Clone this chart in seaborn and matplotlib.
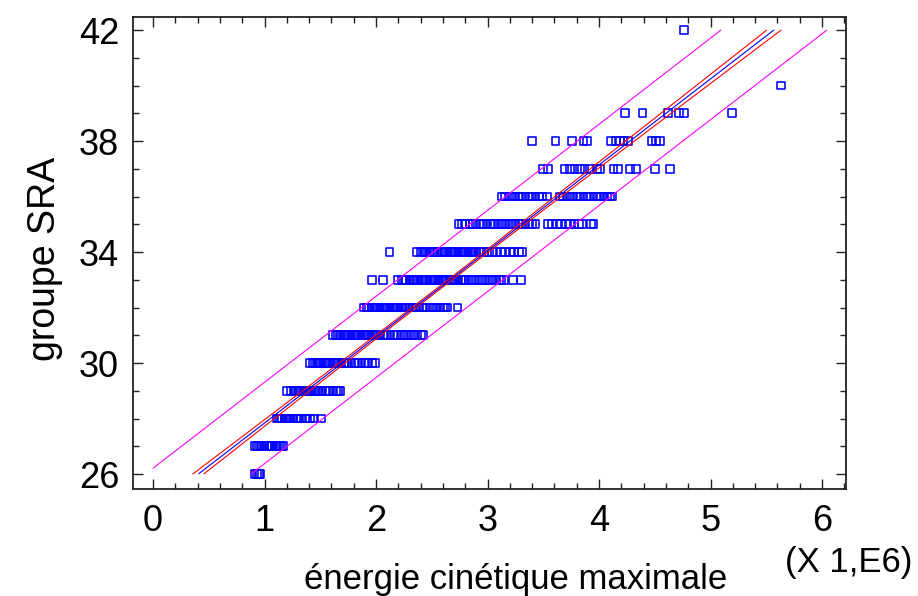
import numpy as np
import pandas as pd
import matplotlib
matplotlib.use('Agg')
import matplotlib.pyplot as plt
from matplotlib.ticker import MultipleLocator
import seaborn as sns

# ── Data: énergie cinétique maximale (X 1,E6) per groupe SRA row ─────
row_26 = [0.91, 0.93, 0.95, 0.96]
row_27 = [0.91, 0.93, 0.95, 0.97, 0.99, 1.00, 1.02, 1.04, 1.05, 1.07,
          1.09, 1.11, 1.13, 1.15, 1.17]
row_28 = [1.11, 1.13, 1.15, 1.16, 1.18, 1.20, 1.22, 1.24, 1.26, 1.28,
          1.30, 1.33, 1.36, 1.38, 1.41, 1.44, 1.51]
row_29 = [1.20, 1.24, 1.26, 1.28, 1.30, 1.32, 1.34, 1.36, 1.38, 1.40,
          1.42, 1.44, 1.46, 1.48, 1.50, 1.52, 1.55, 1.58, 1.61, 1.64,
          1.66, 1.68]
row_30 = [1.41, 1.43, 1.45, 1.47, 1.49, 1.51, 1.53, 1.55, 1.57, 1.59,
          1.61, 1.63, 1.65, 1.67, 1.69, 1.71, 1.73, 1.75, 1.78, 1.81,
          1.84, 1.87, 1.90, 1.93, 1.96, 1.99]
row_31 = [1.61, 1.64, 1.66, 1.68, 1.70, 1.72, 1.74, 1.76, 1.78, 1.80,
          1.82, 1.84, 1.86, 1.88, 1.90, 1.92, 1.94, 1.96, 1.98, 2.00,
          2.02, 2.04, 2.07, 2.10, 2.13, 2.16, 2.19, 2.22, 2.25, 2.28,
          2.31, 2.34, 2.37, 2.40, 2.42]
row_32 = [1.89, 1.92, 1.94, 1.96, 1.98, 2.00, 2.02, 2.04, 2.06, 2.08,
          2.10, 2.12, 2.14, 2.16, 2.18, 2.20, 2.22, 2.24, 2.26, 2.28,
          2.30, 2.33, 2.36, 2.39, 2.42, 2.45, 2.48, 2.51, 2.54, 2.57,
          2.60, 2.62, 2.64, 2.73]
row_33 = [1.96, 2.06, 2.20, 2.23, 2.25, 2.27, 2.30, 2.32, 2.34, 2.36,
          2.38, 2.40, 2.42, 2.44, 2.46, 2.48, 2.50, 2.52, 2.54, 2.56,
          2.58, 2.60, 2.62, 2.64, 2.66, 2.68, 2.70, 2.72, 2.74, 2.76,
          2.78, 2.80, 2.83, 2.86, 2.89, 2.92, 2.95, 2.98, 3.01, 3.04,
          3.07, 3.10, 3.12, 3.15, 3.23, 3.30]
row_34 = [2.12, 2.37, 2.40, 2.42, 2.44, 2.46, 2.48, 2.50, 2.52, 2.55,
          2.58, 2.60, 2.62, 2.64, 2.66, 2.68, 2.70, 2.72, 2.74, 2.76,
          2.78, 2.80, 2.82, 2.84, 2.86, 2.88, 2.90, 2.92, 2.94, 2.97,
          3.00, 3.04, 3.08, 3.12, 3.16, 3.20, 3.24, 3.28, 3.31]
row_35 = [2.74, 2.77, 2.80, 2.84, 2.87, 2.90, 2.93, 2.96, 2.99, 3.02,
          3.05, 3.07, 3.10, 3.13, 3.16, 3.19, 3.22, 3.25, 3.28, 3.31,
          3.34, 3.37, 3.40, 3.43, 3.54, 3.58, 3.62, 3.66, 3.70, 3.74,
          3.78, 3.82, 3.85, 3.93, 3.95]
row_36 = [3.13, 3.16, 3.19, 3.22, 3.25, 3.28, 3.31, 3.34, 3.37, 3.40,
          3.43, 3.46, 3.49, 3.53, 3.65, 3.68, 3.71, 3.74, 3.77, 3.80,
          3.83, 3.86, 3.89, 3.92, 3.95, 3.98, 4.01, 4.04, 4.07, 4.10,
          4.12]
row_37 = [3.50, 3.54, 3.69, 3.74, 3.78, 3.83, 3.87, 3.92, 3.98, 4.01,
          4.13, 4.17, 4.28, 4.33, 4.50, 4.64]
row_38 = [3.40, 3.61, 3.76, 3.86, 3.89, 4.11, 4.15, 4.19, 4.22, 4.26,
          4.47, 4.51, 4.55]
row_39 = [4.23, 4.39, 4.62, 4.72, 4.76, 5.19]
row_40 = [5.63]
row_42 = [4.76]

rows = {26: row_26, 27: row_27, 28: row_28, 29: row_29, 30: row_30,
        31: row_31, 32: row_32, 33: row_33, 34: row_34, 35: row_35,
        36: row_36, 37: row_37, 38: row_38, 39: row_39, 40: row_40,
        42: row_42}

# fitted model
fit_intercept = 24.74
fit_slope = 3.10
resid_sd = 0.745
n_obs = 640
x_mean = 2.60
x_sxx = 520.0
t_crit = 1.96

df = pd.DataFrame([(x, g) for g, xs in rows.items() for x in xs],
                  columns=['energie', 'groupe'])

# ── Regression lines with confidence / prediction limits ─────────────
xg = np.linspace(0, 6.2, 2000)
fit = fit_intercept + fit_slope * xg
se_mean = resid_sd * np.sqrt(1 / n_obs + (xg - x_mean) ** 2 / x_sxx)
se_pred = resid_sd * np.sqrt(1 + 1 / n_obs + (xg - x_mean) ** 2 / x_sxx)

def clip(y):
    return np.where((y >= 26) & (y <= 42), y, np.nan)

lines = pd.DataFrame({
    'x': xg,
    'fit': clip(fit),
    'ci_lo': clip(fit - t_crit * se_mean),
    'ci_hi': clip(fit + t_crit * se_mean),
    'pi_lo': clip(fit - t_crit * se_pred),
    'pi_hi': clip(fit + t_crit * se_pred),
})

# ── Plot ────────────────────────────────────────────────────────────
sns.set_style('ticks')
plt.rcParams['font.family'] = ['Liberation Sans', 'DejaVu Sans']
plt.rcParams['text.color'] = 'black'
plt.rcParams['xtick.color'] = 'black'
plt.rcParams['ytick.color'] = 'black'

fig = plt.figure(figsize=(9.18, 5.96), dpi=100)
ax = fig.add_axes([133 / 918, 1 - 489 / 596, 713 / 918, 472 / 596])

sns.scatterplot(data=df, x='energie', y='groupe', marker='s', s=32,
                facecolors='none', edgecolor='#0000ff', linewidth=1.15,
                ax=ax, zorder=2)

for col, color in [('pi_lo', '#ff00ff'), ('pi_hi', '#ff00ff'),
                   ('ci_lo', '#ff0000'), ('ci_hi', '#ff0000'),
                   ('fit', '#0000ff')]:
    sub = lines[['x', col]].dropna()
    sns.lineplot(x=sub['x'], y=sub[col], color=color, linewidth=0.8,
                 estimator=None, sort=False, ax=ax, zorder=3)

ax.set_xlim(-0.18, 6.215)
ax.set_ylim(25.46, 42.47)
ax.set_xticks([0, 1, 2, 3, 4, 5, 6])
ax.set_yticks([26, 30, 34, 38, 42])
ax.xaxis.set_minor_locator(MultipleLocator(0.2))
ax.yaxis.set_minor_locator(MultipleLocator(1))
ax.tick_params(which='both', direction='in', top=True, right=True,
               color='#222222', width=1.0, labelcolor='black')
ax.tick_params(which='major', length=7, labelsize=26)
ax.tick_params(axis='x', which='major', pad=11)
ax.tick_params(axis='y', which='major', pad=10)
ax.tick_params(which='minor', length=4)
for sp in ax.spines.values():
    sp.set_color('#222222')
    sp.set_linewidth(1.3)

ax.set_xlabel('')
ax.set_ylabel('')
fig.text(516 / 918, 1 - 589 / 596, 'énergie cinétique maximale',
         ha='center', va='baseline', fontsize=25, color='black')
fig.text(912 / 918, 1 - 572 / 596, '(X 1,E6)',
         ha='right', va='baseline', fontsize=25, color='black')
fig.text(45 / 918, 1 - 259 / 596, 'groupe SRA', rotation=90,
         ha='center', va='center', fontsize=27, color='black')

fig.savefig('out.png', dpi=100)
